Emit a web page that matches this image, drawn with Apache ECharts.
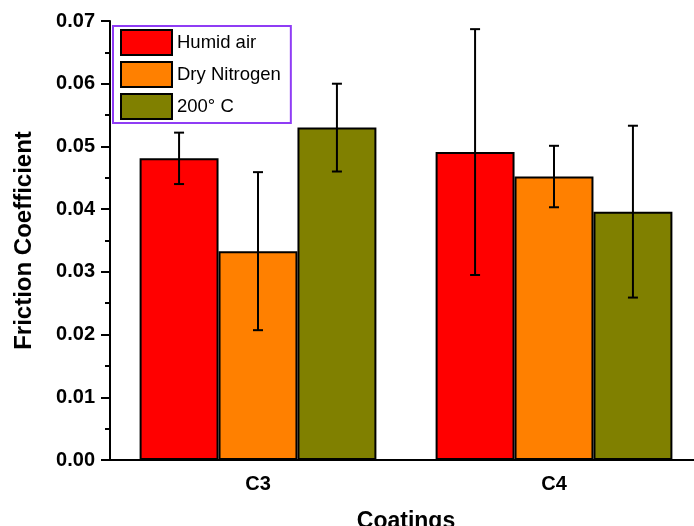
<!DOCTYPE html>
<html>
<head>
<meta charset="utf-8">
<script src="https://cdn.jsdelivr.net/npm/echarts@6/dist/echarts.min.js"></script>
<style>html,body{margin:0;padding:0;background:#fff;}#c{width:694px;height:526px;}</style>
</head>
<body>
<div id="c"></div>
<script>
var categories = ['C3', 'C4'];
var seriesNames = ['Humid air', 'Dry Nitrogen', '200\u00B0 C'];
var humidAir = [0.0481, 0.0491];
var humidAirErr = [0.0041, 0.0196];
var dryNitrogen = [0.0333, 0.0452];
var dryNitrogenErr = [0.0126, 0.0049];
var hot200 = [0.0530, 0.0396];
var hot200Err = [0.0070, 0.0137];
var colors = ['#ff0000', '#ff8000', '#808000'];

var values = [humidAir, dryNitrogen, hot200];
var errs = [humidAirErr, dryNitrogenErr, hot200Err];

var FONT = '"Liberation Sans", Arial, sans-serif';
var chart = echarts.init(document.getElementById('c'), null, {renderer: 'canvas'});

var errData = [];
for (var s = 0; s < 3; s++) {
  for (var c = 0; c < categories.length; c++) {
    errData.push([c, values[s][c] - errs[s][c], values[s][c] + errs[s][c], s]);
  }
}

var series = [];
for (var i = 0; i < 3; i++) {
  series.push({
    name: seriesNames[i],
    type: 'bar',
    data: values[i],
    barGap: '0%',
    barCategoryGap: '20%',
    itemStyle: {color: colors[i], borderColor: '#000', borderWidth: 2},
    z: 2
  });
}
series.push({
  type: 'custom',
  data: errData,
  encode: {x: 0, y: [1, 2]},
  z: 10,
  silent: true,
  renderItem: function (params, api) {
    var cat = api.value(0), lo = api.value(1), hi = api.value(2), si = api.value(3);
    var pLo = api.coord([cat, lo]);
    var pHi = api.coord([cat, hi]);
    var band = api.size([1, 0])[0];
    var bw = band * 0.8 / 3;
    var x = pLo[0] + (si - 1) * bw;
    var cap = 5;
    var st = {stroke: '#000', lineWidth: 2};
    return {
      type: 'group',
      children: [
        {type: 'line', shape: {x1: x, y1: pHi[1], x2: x, y2: pLo[1]}, style: st},
        {type: 'line', shape: {x1: x - cap, y1: pHi[1], x2: x + cap, y2: pHi[1]}, style: st},
        {type: 'line', shape: {x1: x - cap, y1: pLo[1], x2: x + cap, y2: pLo[1]}, style: st}
      ]
    };
  }
});

chart.setOption({
  animation: false,
  backgroundColor: '#fff',
  textStyle: {fontFamily: FONT},
  grid: {left: 110, right: -8, top: 21, bottom: 66, containLabel: false, outerBoundsMode: 'none'},
  legend: {
    data: seriesNames,
    orient: 'vertical',
    left: 113,
    top: 26,
    itemWidth: 51,
    itemHeight: 25,
    itemGap: 5,
    icon: 'rect',
    padding: [3, 10, 3, 7],
    borderColor: '#8f3cf5',
    borderWidth: 2,
    backgroundColor: '#fff',
    itemStyle: {borderColor: '#000', borderWidth: 2},
    textStyle: {fontFamily: FONT, fontSize: 18.5, color: '#000', padding: [0, 0, 0, 0]},
    itemTextGap: 6,
    selectedMode: false
  },
  xAxis: [{
    type: 'category',
    data: categories,
    position: 'bottom',
    name: 'Coatings',
    nameLocation: 'middle',
    nameGap: 50,
    nameTextStyle: {fontFamily: FONT, fontSize: 23, fontWeight: 'bold', color: '#000'},
    axisLine: {lineStyle: {color: '#000', width: 2}},
    axisTick: {alignWithLabel: true, length: 9, lineStyle: {color: '#000', width: 2}},
    axisLabel: {fontFamily: FONT, fontSize: 20, fontWeight: 'bold', color: '#000', margin: 14}
  }, {
    type: 'category',
    data: categories,
    position: 'top',
    axisLine: {lineStyle: {color: '#000', width: 2}},
    axisTick: {alignWithLabel: true, inside: true, length: 3, lineStyle: {color: '#000', width: 2}},
    axisLabel: {show: false}
  }],
  yAxis: [{
    type: 'value',
    min: 0,
    max: 0.07,
    interval: 0.01,
    name: 'Friction Coefficient',
    nameLocation: 'middle',
    nameGap: 74,
    nameRotate: 90,
    nameTextStyle: {fontFamily: FONT, fontSize: 24, fontWeight: 'bold', color: '#000'},
    axisLine: {show: true, lineStyle: {color: '#000', width: 2}},
    axisTick: {show: true, length: 9, lineStyle: {color: '#000', width: 2}},
    minorTick: {show: true, splitNumber: 2, length: 5, lineStyle: {color: '#000', width: 2}},
    splitLine: {show: false},
    axisLabel: {
      fontFamily: FONT, fontSize: 20, fontWeight: 'bold', color: '#000', margin: 15,
      formatter: function (v) { return v.toFixed(2); }
    }
  }, {
    type: 'value',
    min: 0,
    max: 0.07,
    interval: 0.01,
    position: 'right',
    axisLine: {show: true, lineStyle: {color: '#000', width: 2}},
    axisTick: {show: false},
    axisLabel: {show: false},
    splitLine: {show: false}
  }],
  series: series
});
</script>
</body>
</html>
